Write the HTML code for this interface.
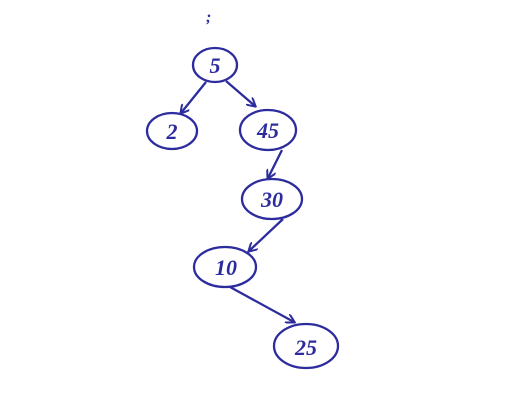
<!DOCTYPE html>
<html>
<head>
<meta charset="utf-8">
<style>
  html,body{margin:0;padding:0;background:#fff;}
  svg{display:block;}
  text{font-family:"Liberation Serif",serif;font-style:italic;fill:#2c2c9e;}
</style>
</head>
<body>
<svg width="512" height="413" viewBox="0 0 512 413">
  <defs>
    <marker id="ah" markerWidth="10" markerHeight="10" refX="8" refY="5" orient="auto" markerUnits="userSpaceOnUse">
      <path d="M0,0 L9,5 L0,10" fill="none" stroke="#2c2c9e" stroke-width="2"/>
    </marker>
  </defs>
  <rect width="512" height="413" fill="#fff"/>
  <text x="206" y="22" font-size="16" font-weight="bold">;</text>
  <g stroke="#2c2c9e" stroke-width="2.3" fill="none">
    <g><path d="M206,82 L181,113" marker-end="url(#ah)"/></g>
    <g><path d="M226,81 L255,106" marker-end="url(#ah)"/></g>
    <g><path d="M282,150 L268,178" marker-end="url(#ah)"/></g>
    <g><path d="M283,219 L249,251" marker-end="url(#ah)"/></g>
    <g><path d="M230,287 L294,322" marker-end="url(#ah)"/></g>
    <ellipse cx="215" cy="65" rx="22" ry="17"/>
    <ellipse cx="172" cy="131" rx="25" ry="18"/>
    <ellipse cx="268" cy="130" rx="28" ry="20"/>
    <ellipse cx="272" cy="199" rx="30" ry="20"/>
    <ellipse cx="225" cy="267" rx="31" ry="20"/>
    <ellipse cx="306" cy="346" rx="32" ry="22"/>
  </g>
  <g font-size="22" text-anchor="middle" font-weight="bold">
    <text x="215" y="73">5</text>
    <text x="172" y="139">2</text>
    <text x="268" y="138">45</text>
    <text x="272" y="207">30</text>
    <text x="226" y="275">10</text>
    <text x="306" y="355">25</text>
  </g>
</svg>
</body>
</html>
